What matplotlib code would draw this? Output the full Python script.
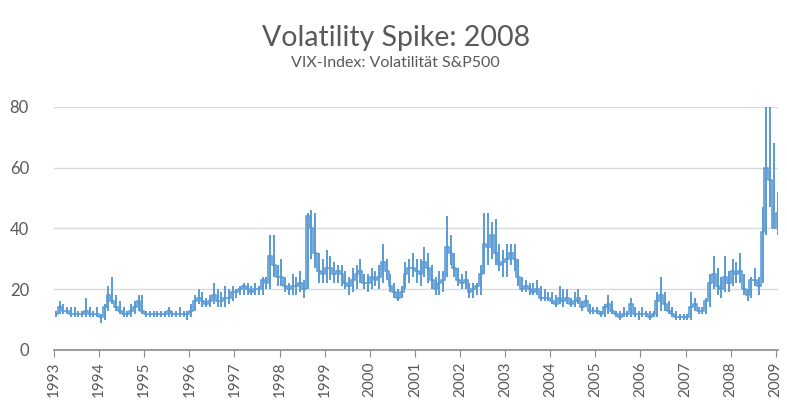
import numpy as np
import matplotlib
matplotlib.use("Agg")
import matplotlib.pyplot as plt

plt.rcParams['font.family'] = ['Lato', 'DejaVu Sans']

years = list(range(1993, 2010))

# monthly high / low / close of the VIX, Jan 1993 .. Jan 2009
vix_high = [
    13, 16, 15, 14, 14, 14, 13, 13, 17, 14, 13, 14,   # 1993
    12, 15, 21, 24, 18, 16, 14, 13, 15, 16, 18, 18,   # 1994
    13, 13, 13, 13, 13, 13, 14, 13, 13, 14, 13, 13,   # 1995
    15, 18, 20, 19, 17, 18, 22, 20, 19, 21, 20, 21,   # 1996
    20, 21, 22, 22, 21, 22, 21, 24, 24, 38, 38, 28,   # 1997
    30, 24, 22, 25, 24, 26, 23, 45, 46, 45, 32, 30,   # 1998
    33, 31, 29, 28, 28, 26, 24, 27, 28, 30, 25, 25,   # 1999
    27, 26, 28, 35, 30, 25, 22, 20, 21, 29, 30, 32,   # 2000
    30, 30, 34, 32, 28, 24, 26, 26, 44, 38, 32, 27,   # 2001
    25, 26, 22, 22, 22, 28, 45, 45, 42, 43, 35, 33,   # 2002
    35, 35, 35, 30, 24, 23, 22, 22, 23, 21, 20, 19,   # 2003
    19, 18, 21, 20, 20, 17, 19, 20, 16, 18, 15, 14,   # 2004
    14, 13, 15, 18, 16, 13, 13, 14, 13, 17, 14, 13,   # 2005
    14, 13, 13, 13, 19, 24, 19, 16, 14, 13, 12, 12,   # 2006
    12, 19, 17, 14, 14, 17, 25, 31, 27, 24, 31, 26,   # 2007
    30, 29, 32, 25, 20, 24, 27, 24, 47, 80, 81, 68,   # 2008
    52,                                               # 2009
]
vix_low = [
    11, 12, 12, 12, 11, 11, 11, 11, 11, 11, 11, 11,
    9, 10, 13, 15, 13, 12, 11, 11, 11, 12, 13, 12,
    11, 11, 11, 11, 11, 11, 11, 11, 11, 11, 11, 10,
    11, 13, 15, 14, 14, 14, 15, 14, 14, 14, 15, 16,
    17, 18, 18, 18, 18, 18, 18, 18, 20, 20, 24, 21,
    21, 19, 18, 18, 18, 19, 17, 20, 30, 27, 22, 22,
    22, 23, 22, 22, 21, 20, 18, 19, 20, 22, 20, 19,
    20, 21, 20, 22, 23, 19, 17, 16, 17, 20, 22, 24,
    22, 21, 24, 22, 20, 18, 18, 19, 24, 28, 24, 21,
    20, 20, 17, 17, 18, 18, 25, 28, 30, 28, 26, 24,
    24, 28, 26, 21, 19, 19, 18, 18, 18, 16, 16, 16,
    15, 14, 15, 14, 15, 14, 14, 15, 13, 14, 12, 12,
    12, 11, 11, 12, 12, 11, 10, 11, 11, 11, 11, 10,
    11, 11, 10, 11, 11, 13, 13, 12, 11, 10, 10, 10,
    10, 10, 13, 12, 12, 12, 14, 20, 18, 17, 19, 19,
    21, 22, 22, 18, 16, 17, 21, 18, 22, 38, 47, 40,
    38,
]
vix_close = [
    12, 14, 13, 13, 12, 12, 12, 12, 13, 12, 12, 12,
    11, 14, 18, 16, 14, 13, 12, 12, 13, 14, 16, 13,
    12, 12, 12, 12, 12, 12, 13, 12, 12, 12, 12, 12,
    13, 16, 17, 16, 15, 16, 18, 16, 16, 17, 17, 19,
    19, 20, 21, 20, 19, 20, 20, 23, 22, 31, 28, 24,
    24, 21, 20, 21, 21, 22, 20, 44, 40, 32, 26, 25,
    27, 27, 25, 26, 25, 22, 21, 23, 25, 26, 22, 22,
    24, 23, 24, 29, 26, 21, 19, 17, 19, 25, 27, 27,
    26, 25, 29, 27, 23, 20, 22, 23, 34, 32, 27, 23,
    22, 23, 19, 20, 21, 25, 35, 34, 38, 32, 28, 29,
    30, 32, 30, 24, 20, 21, 20, 19, 20, 17, 17, 17,
    16, 15, 17, 16, 17, 15, 16, 17, 14, 16, 13, 13,
    13, 12, 14, 15, 13, 12, 11, 12, 12, 15, 12, 12,
    12, 12, 11, 12, 16, 18, 15, 13, 12, 11, 11, 11,
    11, 14, 15, 13, 13, 16, 22, 25, 21, 20, 24, 22,
    26, 25, 26, 20, 18, 23, 23, 21, 39, 60, 56, 40,
    45,
]

# mid-month positions as fractional years
t = 1993 + (np.arange(len(vix_close)) + 0.5) / 12.0

blue = '#5B9BD5'
grey = '#595959'

fig = plt.figure(figsize=(7.87, 4.12), dpi=100)
ax = fig.add_axes([0.0686, 0.1505, 0.92, 0.5898])

ax.vlines(t, vix_low, vix_high, color=blue, lw=1.4)
ax.plot(t, vix_close, color=blue, lw=1.2, drawstyle='steps-mid')

ax.set_xlim(1993, 2009.05)
ax.set_ylim(0, 80)
ax.set_yticks([0, 20, 40, 60, 80])
ax.set_xticks(years)
ax.set_xticklabels([str(y) for y in years], rotation=90)
ax.grid(axis='y', color='#D9D9D9', lw=1)
ax.set_axisbelow(True)

for s in ['top', 'right', 'left']:
    ax.spines[s].set_visible(False)
ax.spines['bottom'].set_color('#8C8C8C')
ax.spines['bottom'].set_linewidth(1.2)
ax.tick_params(axis='x', direction='out', length=5, color='#8C8C8C',
               labelsize=11, labelcolor=grey, pad=3)
ax.tick_params(axis='y', length=0, labelsize=12, labelcolor=grey, pad=18)

fig.text(0.503, 0.907, 'Volatility Spike: 2008', ha='center', va='center',
         fontsize=20.5, color=grey)
fig.text(0.503, 0.848, 'VIX-Index: Volatilität S&P500', ha='center', va='center',
         fontsize=11.5, color=grey)

fig.savefig('out.png', dpi=100)
